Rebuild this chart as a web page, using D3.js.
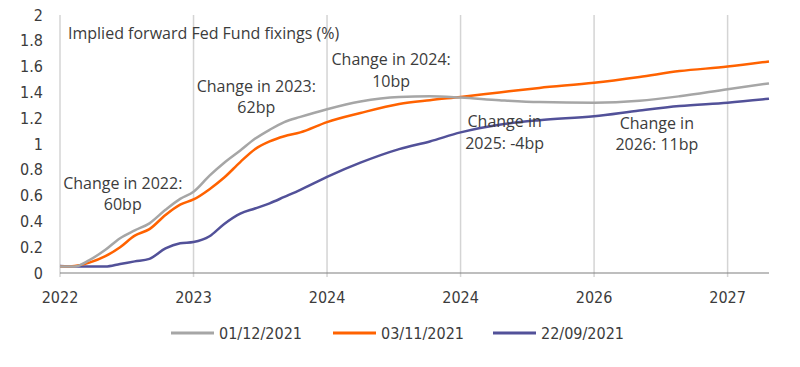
<!DOCTYPE html>
<html>
<head>
<meta charset="utf-8">
<script src="https://cdn.jsdelivr.net/npm/d3@7"></script>
<style>
  html, body { margin: 0; padding: 0; background: #fff; }
  svg { display: block; }
  .tick-label { font-family: "Liberation Sans Narrow", "DejaVu Sans Condensed", sans-serif; font-size: 16px; fill: #3c3c3c; }
  .note { font-family: "Open Sans", sans-serif; font-size: 16px; fill: #3c3c3c; }
</style>
</head>
<body>
<svg id="chart" width="800" height="367"></svg>
<script>
// Time position in years from the first gridline (2022)
const t = [0, 0.11, 0.22, 0.34, 0.45, 0.56, 0.67, 0.79, 0.90, 1.0, 1.12, 1.23, 1.35, 1.46, 1.57, 1.68, 1.80, 2.0, 2.25, 2.54, 2.77, 3.0, 3.29, 3.59, 4.0, 4.34, 4.64, 5.0, 5.31];
const seriesNames = ["01/12/2021", "03/11/2021", "22/09/2021"];
const s_0112 = [0.05, 0.05, 0.10, 0.18, 0.27, 0.33, 0.385, 0.49, 0.575, 0.63, 0.755, 0.855, 0.95, 1.04, 1.11, 1.17, 1.21, 1.27, 1.33, 1.365, 1.37, 1.36, 1.34, 1.325, 1.32, 1.335, 1.37, 1.425, 1.47];
const s_0311 = [0.05, 0.055, 0.08, 0.13, 0.20, 0.29, 0.34, 0.45, 0.53, 0.57, 0.65, 0.74, 0.86, 0.96, 1.02, 1.06, 1.09, 1.17, 1.24, 1.31, 1.34, 1.365, 1.40, 1.435, 1.475, 1.52, 1.565, 1.60, 1.64];
const s_2209 = [0.055, 0.05, 0.05, 0.05, 0.07, 0.09, 0.11, 0.19, 0.23, 0.24, 0.285, 0.38, 0.46, 0.50, 0.54, 0.59, 0.645, 0.745, 0.855, 0.96, 1.02, 1.09, 1.15, 1.185, 1.215, 1.26, 1.295, 1.32, 1.35];
const colors = ["#a6a6a6", "#ff6200", "#525199"];
const xTickPos = [0, 1, 2, 3, 4, 5];
const xTickLabels = ["2022", "2023", "2024", "2024", "2026", "2027"];
const yTicks = [0, 0.2, 0.4, 0.6, 0.8, 1, 1.2, 1.4, 1.6, 1.8, 2];
const yTickLabels = ["0", "0.2", "0.4", "0.6", "0.8", "1", "1.2", "1.4", "1.6", "1.8", "2"];
const title = "Implied forward Fed Fund fixings (%)";
const notes = [
  { t: 0.47, v: 0.655, lines: ["Change in 2022:", "60bp"] },
  { t: 1.47, v: 1.405, lines: ["Change in 2023:", "62bp"] },
  { t: 2.48, v: 1.61, lines: ["Change in 2024:", "10bp"] },
  { t: 3.33, v: 1.13, lines: ["Change in", "2025: -4bp"] },
  { t: 4.47, v: 1.12, lines: ["Change in", "2026: 11bp"] }
];

const svg = d3.select("#chart");
const x = d3.scaleLinear().domain([0, 5.31]).range([60, 769]);
const y = d3.scaleLinear().domain([0, 2]).range([273, 15]);

// Vertical gridlines
svg.append("g").selectAll("line").data(xTickPos).join("line")
  .attr("x1", d => x(d)).attr("x2", d => x(d))
  .attr("y1", y(2)).attr("y2", y(0) + 4)
  .attr("stroke", "#d4d4d4").attr("stroke-width", 1.5);

// X axis baseline
svg.append("line")
  .attr("x1", x(0)).attr("x2", x(5.31))
  .attr("y1", y(0)).attr("y2", y(0))
  .attr("stroke", "#7f7f7f").attr("stroke-width", 1.2);

// X tick labels
svg.append("g").selectAll("text").data(xTickPos).join("text")
  .attr("class", "tick-label")
  .attr("x", d => x(d)).attr("y", y(0) + 30)
  .attr("text-anchor", "middle")
  .text((d, i) => xTickLabels[i]);

// Y tick labels
svg.append("g").selectAll("text").data(yTicks).join("text")
  .attr("class", "tick-label")
  .attr("x", 43).attr("y", d => y(d) + 5.5)
  .attr("text-anchor", "end")
  .text((d, i) => yTickLabels[i]);

// Title
svg.append("text").attr("class", "note")
  .attr("x", 68).attr("y", 39).text(title);

// Lines
const line = d3.line().x((d, i) => x(t[i])).y(d => y(d)).curve(d3.curveMonotoneX);
const series = [s_0112, s_0311, s_2209];
[2, 1, 0].forEach(k => {
  svg.append("path").datum(series[k])
    .attr("fill", "none").attr("stroke", colors[k])
    .attr("stroke-width", 2.5).attr("stroke-linejoin", "round")
    .attr("d", line);
});

// Notes
notes.forEach(n => {
  const g = svg.append("text").attr("class", "note").attr("text-anchor", "middle");
  n.lines.forEach((l, i) => {
    g.append("tspan").attr("x", x(n.t)).attr("y", y(n.v) + i * 21.5).text(l);
  });
});

// Legend
const legX = [171, 333, 493];
const legY = 333;
seriesNames.forEach((name, i) => {
  svg.append("line").attr("x1", legX[i]).attr("x2", legX[i] + 43)
    .attr("y1", legY).attr("y2", legY)
    .attr("stroke", colors[i]).attr("stroke-width", 3);
  svg.append("text").attr("class", "tick-label")
    .attr("x", legX[i] + 48).attr("y", legY + 5.5).text(name);
});
</script>
</body>
</html>
